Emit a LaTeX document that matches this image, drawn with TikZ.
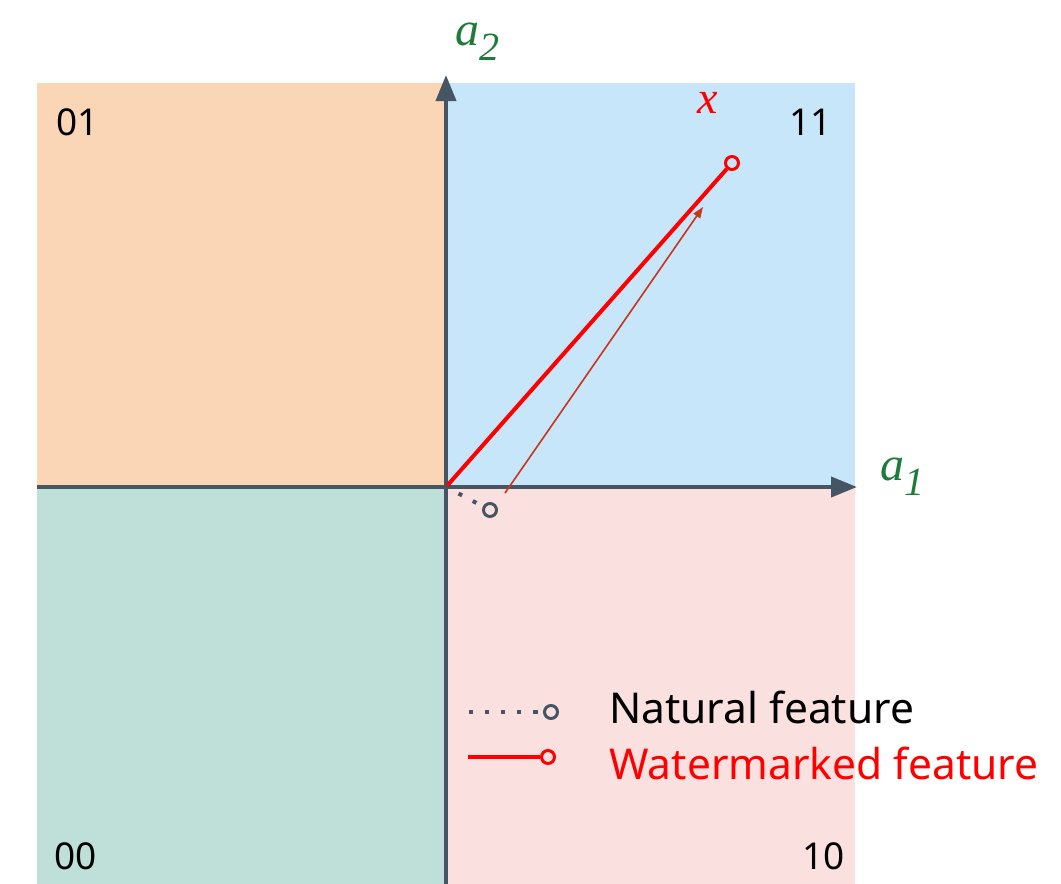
\documentclass[tikz,border=0pt]{standalone}
\usepackage{fontspec}
\setmainfont{Noto Sans}
\newfontfamily\lblserif{Liberation Serif}
\usetikzlibrary{arrows.meta}
\definecolor{qorange}{HTML}{FAD6B7}
\definecolor{qblue}{HTML}{C7E6F9}
\definecolor{qteal}{HTML}{BFE0D8}
\definecolor{qpink}{HTML}{FAE1DF}
\definecolor{axisc}{HTML}{465563}
\definecolor{lgreen}{HTML}{1E7B3A}
\definecolor{wred}{HTML}{FF0000}
\definecolor{thinred}{HTML}{C8341E}
\tikzset{
  axis/.style={draw=axisc, line width=4pt, -{Triangle[length=26pt,width=20pt]}},
  quad/.style={font=\fontsize{37}{44}\selectfont, text=black, inner sep=0pt},
  mlabel/.style={text=lgreen, font=\fontsize{48}{56}\selectfont\lblserif\itshape, inner sep=0pt},
  ptcirc/.style={circle, draw, line width=3pt, minimum size=13pt, inner sep=0pt, fill=none},
  wline/.style={draw=wred, line width=4pt},
  nline/.style={draw=axisc, line width=4pt, dash pattern=on 0.1pt off 16pt, line cap=rect},
  legtext/.style={anchor=west, font=\fontsize{42.5}{50}\selectfont, inner sep=0pt}
}
\begin{document}
\begin{tikzpicture}[x=1pt,y=-1pt]
\useasboundingbox (0,0) rectangle (1061,884);
% quadrants
\fill[qorange] (37,83) rectangle (446,487);
\fill[qblue] (446,83) rectangle (855,487);
\fill[qteal] (37,487) rectangle (446,884);
\fill[qpink] (446,487) rectangle (855,884);
% quadrant labels
\node[quad, anchor=west] (q01) at (56,122) {01};
\node[quad, anchor=east] (q11) at (832,122) {11};
\node[quad, anchor=west] (q00) at (54,856) {00};
\node[quad, anchor=east] (q10) at (845,856) {10};
% axes
\coordinate (O) at (446,487);
\coordinate (ytop) at (446,75);
\coordinate (xend) at (857,487);
\coordinate (ybot) at (446,884);
\coordinate (xbeg) at (37,487);
\draw[draw=axisc, line width=4pt] (O) -- (ybot);
\draw[draw=axisc, line width=4pt] (O) -- (xbeg);
\draw[axis] (O) -- (ytop);
\draw[axis] (O) -- (xend);
\node[mlabel, anchor=base west] (a2) at (455,45) {a\raisebox{-0.32em}{\fontsize{40}{44}\selectfont 2}};
\node[mlabel, anchor=base west] (a1) at (880,480) {a\raisebox{-0.32em}{\fontsize{40}{44}\selectfont 1}};
% points
\node[ptcirc, draw=wred] (xp) at (732,163) {};
\node[ptcirc, draw=axisc] (np) at (490,510) {};
\node[text=wred, font=\fontsize{46}{52}\selectfont\lblserif\itshape, inner sep=0pt] (xl) at (708,103) {x};
\draw[wline] (O) -- (xp);
\draw[nline] (O) -- (np);
\coordinate (ts) at (505,493);
\coordinate (te) at (703,207);
\draw[draw=thinred, line width=1.6pt, -{Triangle[length=11pt,width=8pt]}] (ts) -- (te);
% legend
\node[ptcirc, draw=axisc] (lg1) at (551,712) {};
\coordinate (lg1s) at (471,712);
\draw[nline] (lg1s) -- (lg1);
\node[legtext, text=black] (lt1) at (609,707) {Natural feature};
\node[ptcirc, draw=wred] (lg2) at (548,757) {};
\coordinate (lg2s) at (468,757);
\draw[wline] (lg2s) -- (lg2);
\node[legtext, text=wred] (lt2) at (609,763) {Watermarked feature};
\end{tikzpicture}
\end{document}
